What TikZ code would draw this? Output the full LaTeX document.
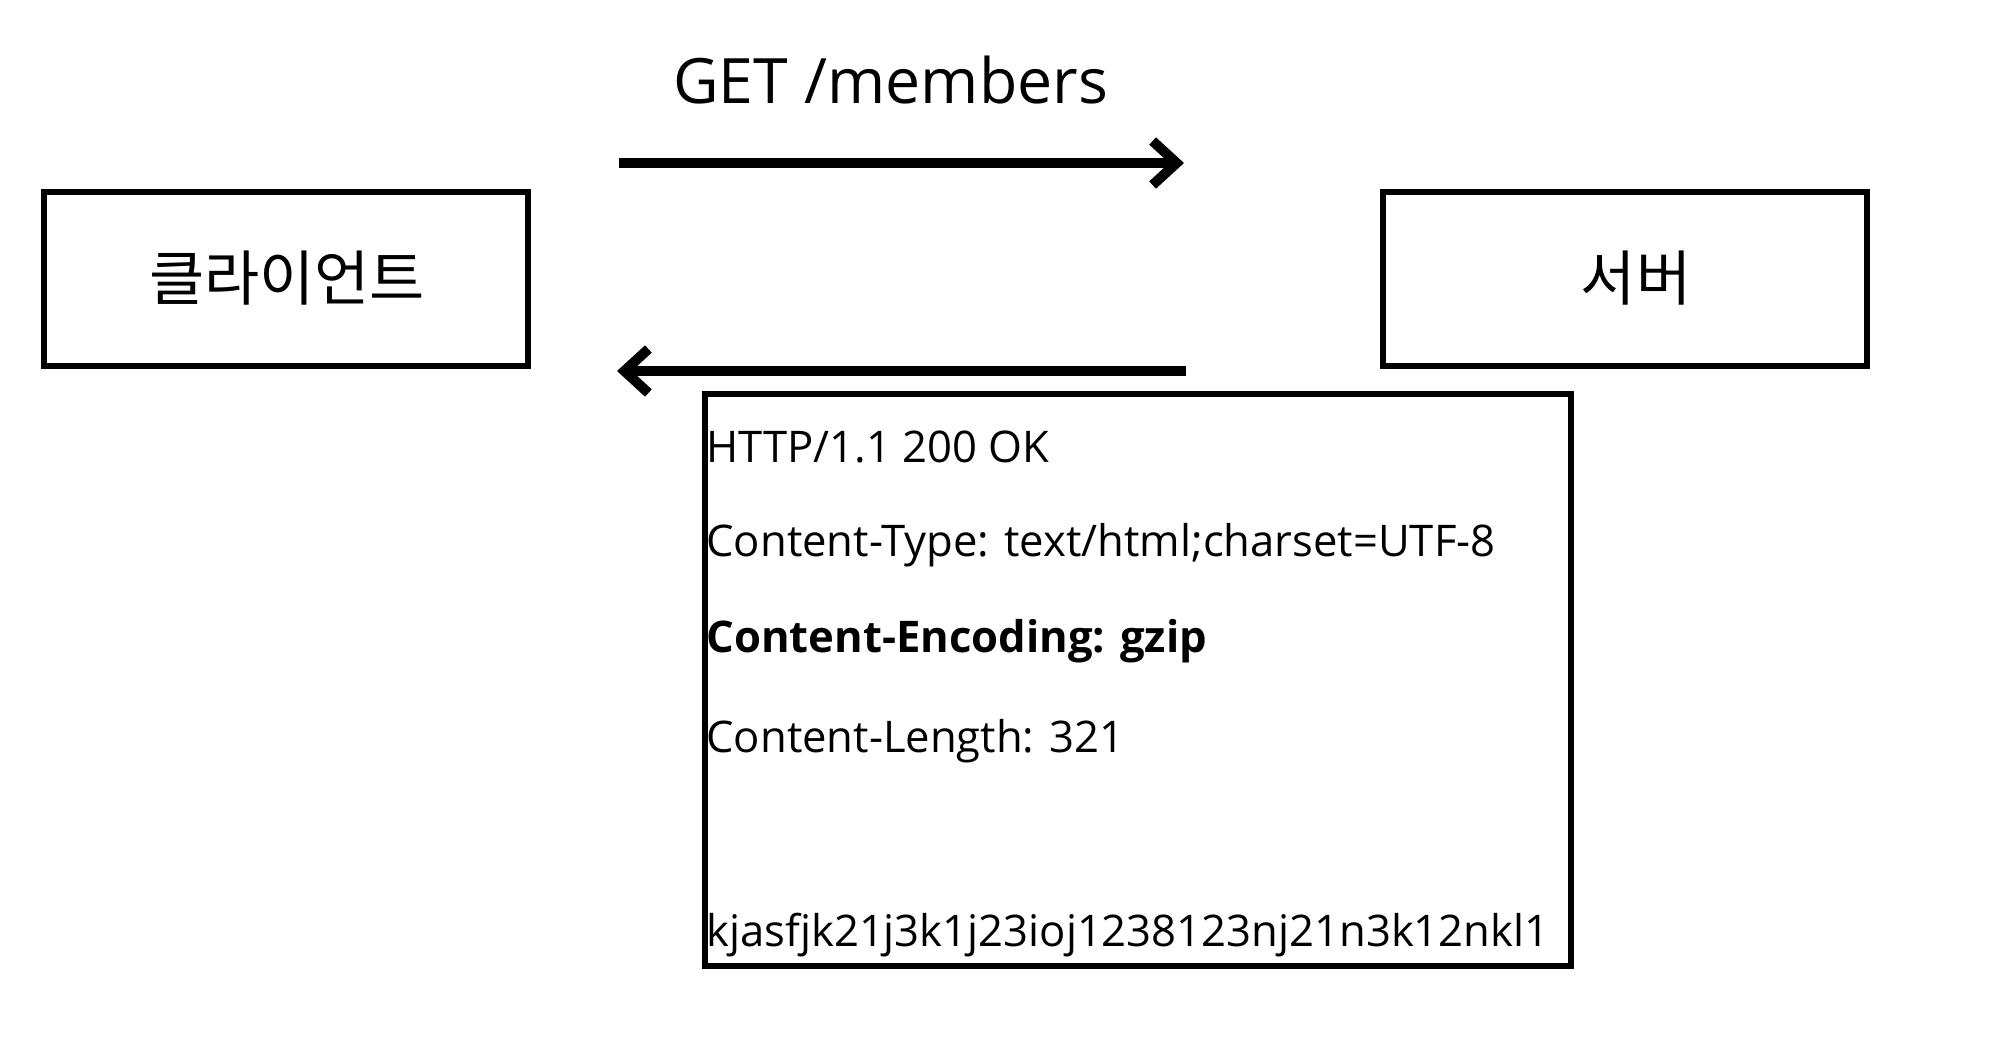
\documentclass[tikz,border=0pt]{standalone}
\usepackage{fontspec}
\setmainfont{Open Sans}
\newfontfamily\krfont{Noto Sans CJK KR}
\usetikzlibrary{arrows.meta}
\tikzset{
  boxline/.style={draw=black, line width=3pt},
  flow/.style={line width=5pt, -{Straight Barb[length=12pt,width=22pt]}},
  hdr/.style={anchor=base west, inner sep=0pt, font=\fontsize{21.8pt}{26pt}\selectfont},
  krlabel/.style={anchor=base, inner sep=0pt, font=\fontsize{30pt}{34pt}\krfont},
}
\begin{document}
\begin{tikzpicture}[x=0.5pt,y=-0.5pt]
\useasboundingbox (0,0) rectangle (1990,1048);
% boxes
\draw[boxline] (44,192) rectangle (528,366);
\draw[boxline] (1383,192) rectangle (1867,366);
\draw[boxline] (705,394) rectangle (1571,966);
\node[krlabel] (client) at (287,300) {클라이언트};
\node[krlabel] (server) at (1636,300) {서버};
% arrows
\coordinate (reqA) at (619,163);
\coordinate (reqB) at (1184,163);
\coordinate (resA) at (1186,371);
\coordinate (resB) at (617,371);
\draw[flow] (reqA) -- (reqB);
\draw[flow] (resA) -- (resB);
\node[anchor=base west, inner sep=0pt, font=\fontsize{31.3pt}{36pt}\selectfont] (get) at (673,104) {GET /members};
% response text
\node[hdr] (l1) at (706,462) {HTTP/1.1 200 OK};
\node[hdr] (l2) at (706,556) {Content-Type: text/html;charset=UTF-8};
\node[hdr] (l3) at (706,652) {\bfseries Content-Encoding: gzip};
\node[hdr] (l4) at (706,752) {Content-Length: 321};
\node[hdr] (l5) at (706,946) {kjasfjk21j3k1j23ioj1238123nj21n3k12nkl1};
\end{tikzpicture}
\end{document}
